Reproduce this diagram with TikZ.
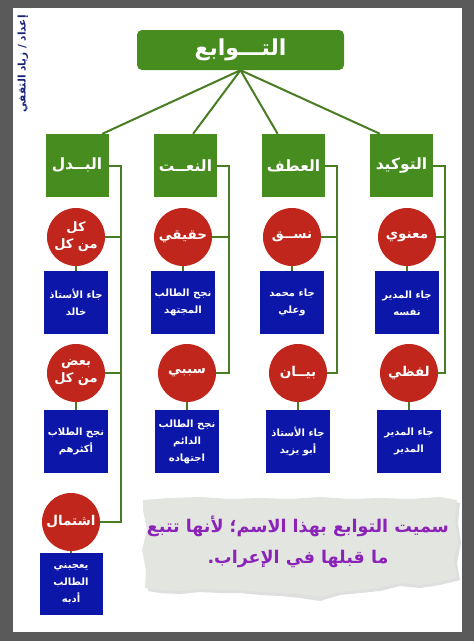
\documentclass[tikz,border=0pt]{standalone}
\usepackage{fontspec}
\newfontfamily\arabicfont[Script=Arabic]{DejaVu Sans}
\TeXXeTstate=1
\usetikzlibrary{positioning,calc}

\definecolor{tabgreen}{RGB}{70,140,30}
\definecolor{tabred}{RGB}{192,38,28}
\definecolor{tabblue}{RGB}{12,22,168}
\definecolor{linegreen}{RGB}{72,125,36}
\definecolor{framegray}{RGB}{90,90,90}
\definecolor{notepurple}{RGB}{140,35,185}
\definecolor{notepaper}{RGB}{226,229,224}
\definecolor{creditblue}{RGB}{25,35,120}

\newcommand{\artext}[1]{\beginR #1\endR}

\tikzset{link/.style={draw=linegreen,line width=2pt}}

\begin{document}
\begin{tikzpicture}[x=1pt,y=-1pt,
  every node/.style={text=white,inner sep=0pt,align=center},
  topbox/.style={fill=tabgreen,rounded corners=5pt,minimum width=207pt,minimum height=40pt,
    font=\arabicfont\bfseries\fontsize{22}{26}\selectfont},
  cat/.style={fill=tabgreen,minimum width=63pt,minimum height=63pt,
    font=\arabicfont\bfseries\fontsize{15.5}{20}\selectfont},
  circ/.style={circle,fill=tabred,minimum size=58pt,
    font=\arabicfont\bfseries\fontsize{13.5}{18}\selectfont},
  circtwo/.style={circ,font=\arabicfont\bfseries\fontsize{13}{17}\selectfont},
  ex/.style={fill=tabblue,minimum width=64pt,minimum height=63pt,
    font=\arabicfont\bfseries\fontsize{10}{17}\selectfont}
]

% frame and page
\fill[framegray] (0,0) rectangle (474,641);
\fill[white] (13,8) rectangle (462,632);
\useasboundingbox (0,0) rectangle (474,641);

% torn note paper
\fill[gray!25] (146,503) -- (200,500) -- (260,502) -- (320,500) -- (380,502) -- (440,500)
  -- (460,503) -- (458,523) -- (461,543) -- (457,563) -- (460,580) -- (440,585) -- (420,588)
  -- (400,586) -- (380,591) -- (360,593) -- (340,595) -- (320,601) -- (300,598) -- (280,596)
  -- (260,595) -- (240,593) -- (220,593) -- (200,592) -- (180,594) -- (160,593) -- (148,591)
  -- (149,573) -- (145,553) -- (150,533) -- (146,513) -- cycle;
\fill[notepaper] (143,500) -- (170,498) -- (200,497) -- (230,499) -- (260,498) -- (290,499)
  -- (320,497) -- (350,499) -- (380,498) -- (410,499) -- (440,497) -- (457,500) -- (455,520)
  -- (458,540) -- (454,560) -- (457,577) -- (440,582) -- (420,585) -- (400,583) -- (380,588)
  -- (360,590) -- (340,592) -- (320,597) -- (300,594) -- (280,593) -- (260,592) -- (240,590)
  -- (220,590) -- (200,589) -- (180,591) -- (160,590) -- (145,588) -- (146,570) -- (142,550)
  -- (147,530) -- (143,510) -- cycle;

% credit
\node[text=creditblue,rotate=90,font=\arabicfont\bfseries\fontsize{10.5}{12}\selectfont]
  (credit) at (23,64) {\artext{إعداد / زياد الثقفي}};

% root and kinds
\node[topbox] (tawabi) at (240.5,50) {\artext{التـــوابع}};

\node[cat] (badal)  at (77,165.5)    {\artext{البــدل}};
\node[cat] (naat)   at (185.5,165.5) {\artext{النعــت}};
\node[cat] (atf)    at (293.5,165.5) {\artext{العطف}};
\node[cat] (tawkid) at (401.5,165.5) {\artext{التوكيد}};

% sub kinds
\node[circtwo] (kul)   at (76,237)  {\artext{كل}\\\artext{من كل}};
\node[circ] (haqiqi)   at (183,237) {\artext{حقيقي}};
\node[circ] (nasaq)    at (292,237) {\artext{نســق}};
\node[circ] (manawi)   at (407,237) {\artext{معنوي}};
\node[circtwo] (baad)  at (76,373)  {\artext{بعض}\\\artext{من كل}};
\node[circ] (sababi)   at (187,373) {\artext{سببي}};
\node[circ] (bayan)    at (298,373) {\artext{بيــان}};
\node[circ] (lafzi)    at (409,373) {\artext{لفظي}};
\node[circ] (ishtimal) at (71,522)  {\artext{اشتمال}};

% examples
\node[ex, below=5pt of kul]    (exkul) {\artext{جاء الأستاذ}\\\artext{خالد}};
\node[ex, below=5pt of haqiqi] (exhaq) {\artext{نجح الطالب}\\\artext{المجتهد}};
\node[ex, below=5pt of nasaq]  (exnas) {\artext{جاء محمد}\\\artext{وعلي}};
\node[ex, below=5pt of manawi] (exman) {\artext{جاء المدير}\\\artext{نفسه}};
\node[ex, below=8pt of baad]   (exbaad) {\artext{نجح الطلاب}\\\artext{أكثرهم}};
\node[ex, below=8pt of sababi] (exsab) {\artext{نجح الطالب}\\\artext{الدائم}\\\artext{اجتهاده}};
\node[ex, below=8pt of bayan]  (exbay) {\artext{جاء الأستاذ}\\\artext{أبو يزيد}};
\node[ex, below=8pt of lafzi]  (exlaf) {\artext{جاء المدير}\\\artext{المدير}};
\node[ex, below=2pt of ishtimal, minimum width=63pt, minimum height=62pt] (exish)
  {\artext{يعجبني}\\\artext{الطالب}\\\artext{أدبه}};

% note
\node[text=notepurple,font=\arabicfont\bfseries\fontsize{17.5}{31}\selectfont]
  (note) at (298,542) {\artext{سميت التوابع بهذا الاسم؛ لأنها تتبع}\\\artext{ما قبلها في الإعراب.}};

% connectors
\draw[link] (tawabi.south) -- ($(badal.north west)!.9!(badal.north east)$);
\draw[link] (tawabi.south) -- ($(naat.north west)!.62!(naat.north east)$);
\draw[link] (tawabi.south) -- ($(atf.north west)!.25!(atf.north east)$);
\draw[link] (tawabi.south) -- ($(tawkid.north west)!.16!(tawkid.north east)$);

\foreach \k/\s in {badal/kul,badal/baad,badal/ishtimal,naat/haqiqi,naat/sababi,
                   atf/nasaq,atf/bayan,tawkid/manawi,tawkid/lafzi}
  \draw[link] (\k.east) -- ++(12,0) |- (\s.east);

\foreach \s/\e in {kul/exkul,haqiqi/exhaq,nasaq/exnas,manawi/exman,baad/exbaad,
                   sababi/exsab,bayan/exbay,lafzi/exlaf,ishtimal/exish}
  \draw[link] (\s) -- (\e);

\end{tikzpicture}
\end{document}
